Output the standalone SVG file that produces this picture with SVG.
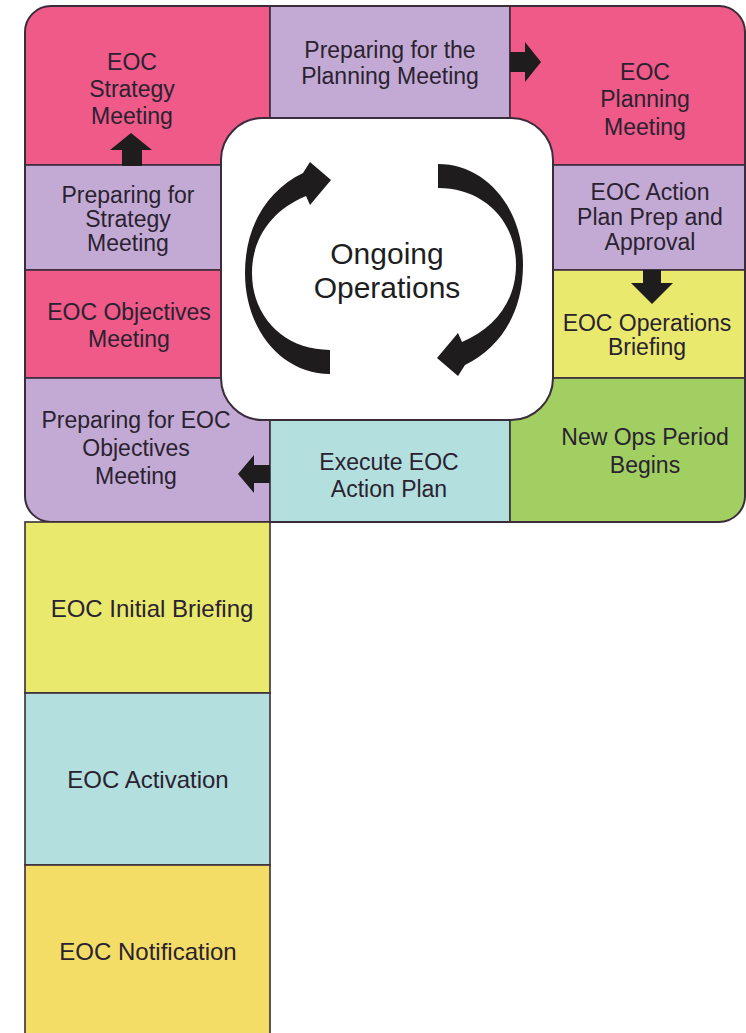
<svg xmlns="http://www.w3.org/2000/svg" width="746" height="1033" viewBox="0 0 746 1033">
<style>
.cell{stroke:#3b2c3b;stroke-width:1.6}
.pink{fill:#ef5a88}
.lav{fill:#c3aad4}
.yel{fill:#e9e96e}
.teal{fill:#b3e0de}
.green{fill:#a1cf62}
.gold{fill:#f3dd66}
.t{font-family:"Liberation Sans",Arial,sans-serif;font-size:23px;fill:#2a2230;text-anchor:middle}
.tb{font-size:24px}
.big{font-size:30px;fill:#1e1e1e}
.arrow{fill:#1f1c1e}
</style>
<defs>
<clipPath id="outer"><rect x="25" y="6" width="720" height="516" rx="26"/></clipPath>
</defs>
<rect width="746" height="1033" fill="#ffffff"/>
<g clip-path="url(#outer)">
<g id="strategy-meeting"><rect class="cell pink" x="25" y="6" width="245" height="159"/>
<text class="t" x="132" y="70">EOC</text><text class="t" x="132" y="97">Strategy</text><text class="t" x="132" y="124">Meeting</text></g>
<g id="prep-strategy"><rect class="cell lav" x="25" y="165" width="245" height="105"/>
<text class="t" x="128" y="203">Preparing for</text><text class="t" x="128" y="227">Strategy</text><text class="t" x="128" y="251">Meeting</text></g>
<g id="objectives-meeting"><rect class="cell pink" x="25" y="270" width="245" height="108"/>
<text class="t" x="129" y="320">EOC Objectives</text><text class="t" x="129" y="347">Meeting</text></g>
<g id="prep-objectives"><rect class="cell lav" x="25" y="378" width="245" height="144"/>
<text class="t" x="136" y="428">Preparing for EOC</text><text class="t" x="136" y="456">Objectives</text><text class="t" x="136" y="484">Meeting</text></g>
<g id="prep-planning"><rect class="cell lav" x="270" y="6" width="240" height="112"/>
<text class="t" x="390" y="58">Preparing for the</text><text class="t" x="390" y="84">Planning Meeting</text></g>
<g id="execute-plan"><rect class="cell teal" x="270" y="420" width="240" height="102"/>
<text class="t" x="389" y="470">Execute EOC</text><text class="t" x="389" y="497">Action Plan</text></g>
<g id="planning-meeting"><rect class="cell pink" x="510" y="6" width="235" height="159"/>
<text class="t" x="645" y="80">EOC</text><text class="t" x="645" y="107">Planning</text><text class="t" x="645" y="135">Meeting</text></g>
<g id="action-plan-prep"><rect class="cell lav" x="510" y="165" width="235" height="105"/>
<text class="t" x="650" y="200">EOC Action</text><text class="t" x="650" y="225">Plan Prep and</text><text class="t" x="650" y="250">Approval</text></g>
<g id="operations-briefing"><rect class="cell yel" x="510" y="270" width="235" height="108"/>
<text class="t" x="647" y="331">EOC Operations</text><text class="t" x="647" y="355">Briefing</text></g>
<g id="new-ops-period"><rect class="cell green" x="510" y="378" width="235" height="144"/>
<text class="t" x="645" y="445">New Ops Period</text><text class="t" x="645" y="473">Begins</text></g>
</g>
<rect x="25" y="6" width="720" height="516" rx="26" fill="none" stroke="#3b2c3b" stroke-width="2"/>
<g id="ongoing-operations">
<rect x="221" y="118" width="332" height="302" rx="42" fill="#ffffff" stroke="#3b2c3b" stroke-width="2"/>
<path class="arrow" d="M330,374 C282,374 245,330 245,273 C245,225 268,190 303,173 L310,162 L331,180 L310,205 L306,196 C272,210 252,238 252,273 C252,318 285,350 330,350 Z"/>
<path class="arrow" transform="rotate(180 384 269)" d="M330,374 C282,374 245,330 245,273 C245,225 268,190 303,173 L310,162 L331,180 L310,205 L306,196 C272,210 252,238 252,273 C252,318 285,350 330,350 Z"/>
<text class="t big" x="387" y="264">Ongoing</text><text class="t big" x="387" y="298">Operations</text>
</g>
<g id="initial-briefing"><rect class="cell yel" x="25" y="522" width="245" height="171"/>
<text class="t tb" x="152" y="617">EOC Initial Briefing</text></g>
<g id="activation"><rect class="cell teal" x="25" y="693" width="245" height="172"/>
<text class="t tb" x="148" y="788">EOC Activation</text></g>
<g id="notification"><rect class="cell gold" x="25" y="865" width="245" height="175"/>
<text class="t tb" x="148" y="960">EOC Notification</text></g>
<g id="connectors">
<polygon class="arrow" points="122,166 122,150 110,150 131,133 152,150 142,150 142,166"/>
<polygon class="arrow" points="510,52 525,52 525,42 541,62 525,82 525,72 510,72"/>
<polygon class="arrow" points="643,270 661,270 661,283 673,283 652,304 631,283 643,283"/>
<polygon class="arrow" points="270,465 254,465 254,455 238,474 254,493 254,483 270,483"/>
</g>
</svg>
